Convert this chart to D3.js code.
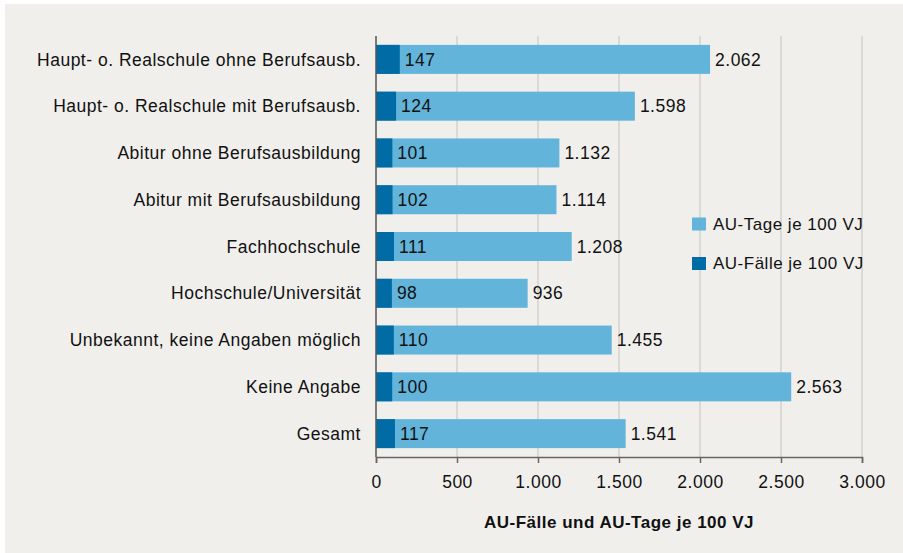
<!DOCTYPE html>
<html>
<head>
<meta charset="utf-8">
<script src="https://cdn.jsdelivr.net/npm/d3@7"></script>
<style>
  body { margin: 0; background: #ffffff; }
  svg { display: block; font-family: "Liberation Sans", Arial, sans-serif; }
  text { letter-spacing: 0.5px; }
</style>
</head>
<body>
<div id="chart"></div>
<script>
const categories = [
  "Haupt- o. Realschule ohne Berufsausb.",
  "Haupt- o. Realschule mit Berufsausb.",
  "Abitur ohne Berufsausbildung",
  "Abitur mit Berufsausbildung",
  "Fachhochschule",
  "Hochschule/Universität",
  "Unbekannt, keine Angaben möglich",
  "Keine Angabe",
  "Gesamt"
];
const auTage = [2062, 1598, 1132, 1114, 1208, 936, 1455, 2563, 1541];
const auFaelle = [147, 124, 101, 102, 111, 98, 110, 100, 117];
const xTicks = [0, 500, 1000, 1500, 2000, 2500, 3000];
const legendLabels = ["AU-Tage je 100 VJ", "AU-Fälle je 100 VJ"];
const axisTitle = "AU-Fälle und AU-Tage je 100 VJ";

const W = 903, H = 553;
const colLight = "#62b4da", colDark = "#006ba4";
const fs = 17.5;
const fmt = d3.formatLocale({decimal: ",", thousands: ".", grouping: [3], currency: ["", "€"]}).format(",d");

const svg = d3.select("#chart").append("svg")
  .attr("width", W).attr("height", H);

svg.append("rect")
  .attr("x", 5).attr("y", 4)
  .attr("width", W - 5).attr("height", H - 4)
  .attr("fill", "#f0efec");

const margin = {top: 36, left: 376, right: 41, bottom: 96};
const x = d3.scaleLinear().domain([0, 3000]).range([margin.left, W - margin.right]);
const y = d3.scaleBand().domain(categories).range([margin.top, H - margin.bottom]).paddingInner(0.38).paddingOuter(0.19);

// gridlines
svg.append("g").selectAll("line")
  .data(xTicks.slice(1))
  .enter().append("line")
  .attr("x1", d => x(d)).attr("x2", d => x(d))
  .attr("y1", margin.top).attr("y2", H - margin.bottom)
  .attr("stroke", "#d3d2cf").attr("stroke-width", 1.5);

const rows = categories.map((c, i) => ({cat: c, tage: auTage[i], faelle: auFaelle[i]}));

svg.append("g").selectAll("rect")
  .data(rows).enter().append("rect")
  .attr("x", x(0)).attr("y", d => y(d.cat))
  .attr("width", d => x(d.tage) - x(0)).attr("height", y.bandwidth())
  .attr("fill", colLight);

svg.append("g").selectAll("rect")
  .data(rows).enter().append("rect")
  .attr("x", x(0)).attr("y", d => y(d.cat))
  .attr("width", d => x(d.faelle) - x(0)).attr("height", y.bandwidth())
  .attr("fill", colDark);

svg.append("g").selectAll("text")
  .data(rows).enter().append("text")
  .attr("x", d => x(d.faelle) + 5).attr("y", d => y(d.cat) + y.bandwidth() / 2)
  .attr("dy", "0.35em").attr("font-size", fs).attr("fill", "#111")
  .text(d => fmt(d.faelle));

svg.append("g").selectAll("text")
  .data(rows).enter().append("text")
  .attr("x", d => x(d.tage) + 5).attr("y", d => y(d.cat) + y.bandwidth() / 2)
  .attr("dy", "0.35em").attr("font-size", fs).attr("fill", "#111")
  .text(d => fmt(d.tage));

// category labels
svg.append("g").selectAll("text")
  .data(categories).enter().append("text")
  .attr("x", margin.left - 15).attr("y", d => y(d) + y.bandwidth() / 2)
  .attr("dy", "0.35em").attr("text-anchor", "end")
  .attr("font-size", fs).attr("fill", "#111")
  .text(d => d);

// x axis
const xAxis = svg.append("g")
  .attr("transform", `translate(0,${H - margin.bottom})`)
  .call(d3.axisBottom(x).tickValues(xTicks).tickSize(6).tickPadding(13).tickFormat(fmt));
xAxis.select(".domain").attr("stroke", "#666").attr("stroke-width", 1.5);
xAxis.selectAll(".tick line").attr("stroke", "#666").attr("stroke-width", 1.5);
xAxis.selectAll(".tick text").attr("font-size", fs).attr("fill", "#111")
  .attr("font-family", "Liberation Sans, Arial, sans-serif");

// y axis line
svg.append("line")
  .attr("x1", x(0)).attr("x2", x(0))
  .attr("y1", margin.top).attr("y2", H - margin.bottom)
  .attr("stroke", "#555").attr("stroke-width", 1.5);

svg.append("text")
  .attr("x", (x(0) + x(3000)) / 2).attr("y", 528)
  .attr("text-anchor", "middle").attr("font-size", 17).attr("font-weight", "bold").attr("fill", "#111")
  .text(axisTitle);

// legend
const legend = svg.append("g").attr("transform", "translate(692,0)");
const legendColors = [colLight, colDark];
legendLabels.forEach((lab, i) => {
  const ly = 224 + i * 39.5;
  legend.append("rect").attr("x", 0).attr("y", ly - 6.5).attr("width", 14).attr("height", 13).attr("fill", legendColors[i]);
  legend.append("text").attr("x", 21).attr("y", ly).attr("dy", "0.35em")
    .attr("font-size", 17).attr("fill", "#111").text(lab);
});
</script>
</body>
</html>
